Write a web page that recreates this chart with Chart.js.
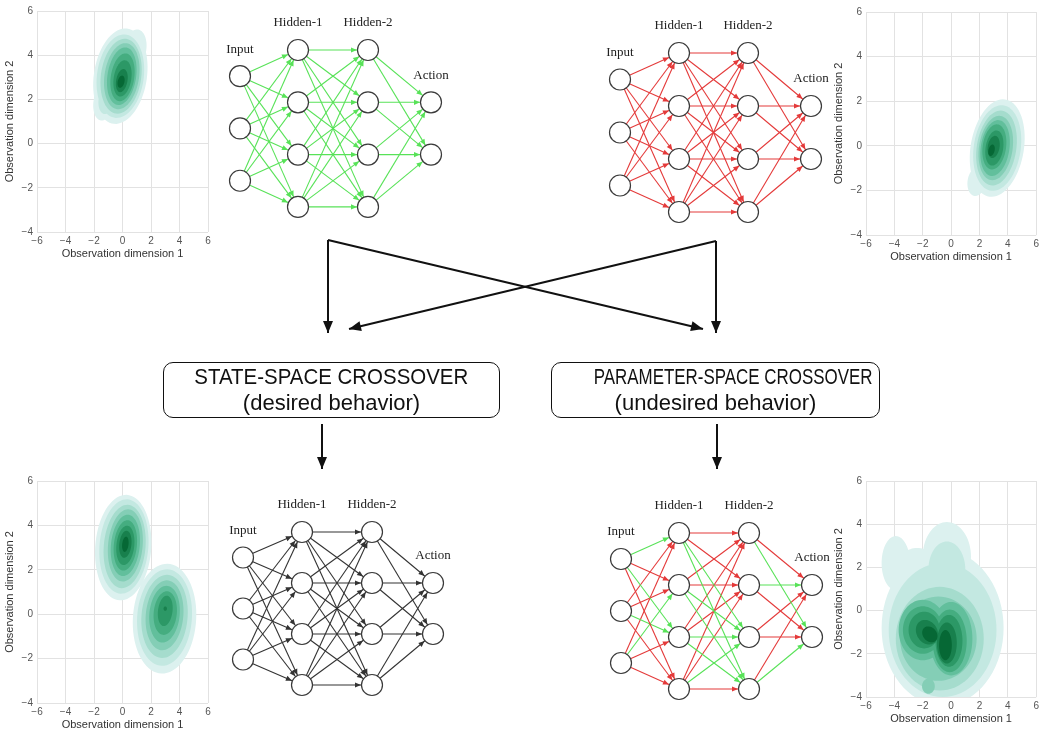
<!DOCTYPE html>
<html lang="en">
<head>
<meta charset="UTF-8">
<title>State-space vs parameter-space crossover</title>
<script src="https://cdn.jsdelivr.net/npm/chart.js"></script>
<style>
  body { margin: 0; background: #fff; }
  #page { position: relative; width: 1042px; height: 730px; overflow: hidden; }
  canvas { position: absolute; }
  .box {
    position: absolute; box-sizing: border-box;
    border: 1.6px solid #111; border-radius: 10px;
    text-align: center; color: #111;
    font-family: "Liberation Sans", Arial, sans-serif;
    font-size: 22px; line-height: 26px; padding-top: 1px;
  }
  .box span { display: inline-block; white-space: nowrap; }
</style>
</head>
<body>
<div id="page">
  <canvas id="diagram" width="1042" height="730" style="left:0;top:0"></canvas>
  <canvas id="kdeTL" width="216" height="261" style="left:0;top:0"></canvas>
  <canvas id="kdeTR" width="213" height="264" style="left:829px;top:0"></canvas>
  <canvas id="kdeBL" width="216" height="262" style="left:0;top:470px"></canvas>
  <canvas id="kdeBR" width="213" height="256" style="left:829px;top:470px"></canvas>
  <div class="box" style="left:163px;top:362px;width:337px;height:56px"><span style="transform:scaleX(0.93)">STATE-SPACE CROSSOVER</span><br><span>(desired behavior)</span></div>
  <div class="box" style="left:551px;top:362px;width:329px;height:56px"><span style="transform:scaleX(0.77)">PARAMETER-SPACE CROSSOVER</span><br><span>(undesired behavior)</span></div>
</div>
<script>
    // ---- data ----
    const layerNames = ['Input', 'Hidden-1', 'Hidden-2', 'Action'];
    const layerSizes = [3, 4, 4, 2];

    // edge colours of the parameter-space child (rows = source node, cols = target node)
    const mixInH1 = [['g', 'r', 'g', 'r'], ['r', 'r', 'g', 'r'], ['r', 'g', 'r', 'r']];
    const mixH1H2 = [['r', 'r', 'g', 'g'], ['r', 'r', 'g', 'g'], ['r', 'r', 'g', 'g'], ['r', 'r', 'g', 'r']];
    const mixH2Act = [['r', 'g'], ['g', 'r'], ['r', 'r'], ['r', 'g']];

    // kde contour levels, outer to inner: each level is a list of [cx, cy, semiA, semiB, angleDeg]
    const kdeTopLeft = [
        [[-0.15, 3.05, 2.25, 1.8, 62], [-1.3, 1.9, 0.9, 0.7, 60], [0.9, 4.3, 0.9, 0.75, 60]],
        [[-0.15, 3.05, 1.95, 1.6, 64], [-1.1, 2.0, 0.7, 0.55, 60]],
        [[-0.1, 3.05, 1.75, 1.38, 66]],
        [[-0.05, 3.05, 1.55, 1.18, 66]],
        [[-0.05, 3.05, 1.35, 0.98, 68]],
        [[0, 3.0, 1.12, 0.8, 68]],
        [[0, 2.95, 0.85, 0.6, 68]],
        [[-0.05, 2.85, 0.55, 0.38, 65]],
        [[-0.1, 2.8, 0.3, 0.22, 55]]
    ];
    const kdeTopRight = [
        [[3.25, -0.1, 2.3, 1.8, 60], [1.8, -1.6, 0.7, 0.6, 45]],
        [[3.25, -0.1, 2.0, 1.6, 62]],
        [[3.2, -0.1, 1.75, 1.35, 64]],
        [[3.15, -0.1, 1.5, 1.15, 65]],
        [[3.1, -0.1, 1.3, 0.98, 66]],
        [[3.05, -0.05, 1.05, 0.8, 66]],
        [[3.05, -0.1, 0.82, 0.6, 66]],
        [[3.0, -0.05, 0.52, 0.4, 62]],
        [[2.85, -0.2, 0.28, 0.2, 55]]
    ];
    const kdeBottomLeft = [
        [[0.05, 3.0, 2.4, 1.95, 76], [2.95, -0.2, 2.5, 2.2, 72]],
        [[0.1, 3.05, 2.15, 1.7, 76], [2.95, -0.15, 2.2, 1.9, 72]],
        [[0.15, 3.05, 1.9, 1.45, 76], [2.95, -0.1, 1.9, 1.6, 72]],
        [[0.2, 3.1, 1.65, 1.2, 76], [2.95, -0.05, 1.6, 1.3, 72]],
        [[0.2, 3.1, 1.4, 1.0, 76], [2.95, 0, 1.3, 1.05, 72]],
        [[0.2, 3.1, 1.15, 0.8, 76], [3.0, 0.05, 1.0, 0.8, 72]],
        [[0.2, 3.1, 0.9, 0.62, 76], [3.0, 0.15, 0.7, 0.5, 72]],
        [[0.2, 3.15, 0.62, 0.42, 76], [3.0, 0.25, 0.12, 0.1, 0]],
        [[0.2, 3.15, 0.35, 0.22, 76]]
    ];
    const kdeBottomRight = [
        [[-0.6, -0.8, 4.3, 3.6, 0], [-3.9, 2.2, 1.0, 1.25, 0], [-2.4, 2.0, 1.4, 0.9, 0], [-0.3, 2.5, 1.7, 1.6, 0]],
        [[-0.6, -0.9, 3.8, 3.1, 0], [-0.3, 1.9, 1.3, 1.3, 0]],
        [[-0.8, -1.3, 3.1, 2.4, 0]],
        [[-0.9, -1.3, 2.7, 1.95, 0], [-1.6, -3.5, 0.45, 0.35, 0]],
        [[-2.0, -0.9, 1.7, 1.4, 0], [0, -1.3, 1.5, 1.7, 0]],
        [[-2.0, -0.9, 1.4, 1.1, 0], [-0.1, -1.4, 1.2, 1.45, 0]],
        [[-1.9, -0.9, 1.1, 0.85, 0], [-0.15, -1.4, 0.95, 1.2, 0]],
        [[-1.7, -1.0, 0.8, 0.55, -15], [-0.3, -1.5, 0.7, 0.95, 0]],
        [[-1.5, -1.1, 0.55, 0.35, -15], [-0.4, -1.6, 0.45, 0.7, 0]]
    ];
    const kdeColors = ['#dcf1ef', '#c3e8e1', '#a5dccd', '#84ceb6', '#62bf9c', '#45ad80', '#2c9866', '#18804d', '#066835'];

    // ---- styles ----
    const GREEN = '#58e258';
    const RED = '#e43a3a';
    const DARK = '#333333';
    const NODE_R = 10.5;

    // where each network sits on the page
    const nets = [
        { x0: 240, y0: 50, dx: [0, 58, 128, 191], gap: 52.3, color: GREEN },
        { x0: 620, y0: 53, dx: [0, 59, 128, 191], gap: 53, color: RED },
        { x0: 243, y0: 532, dx: [0, 59, 129, 190], gap: 51, color: DARK },
        { x0: 621, y0: 533, dx: [0, 58, 128, 191], gap: 52, color: 'mixed' }
    ];
    const mixLayers = [mixInH1, mixH1H2, mixH2Act];

    // big black arrows between panels: [from, to]
    const bigArrows = [
        [[328, 240], [328, 333]],
        [[716, 241], [716, 333]],
        [[328, 240], [703, 329]],
        [[716, 241], [349, 329]],
        [[322, 424], [322, 469]],
        [[717, 424], [717, 469]]
    ];

    function nodePos(net, l, i) {
        return { x: net.x0 + net.dx[l], y: net.y0 + net.gap * ((4 - layerSizes[l]) / 2 + i) };
    }

    const datasets = [];
    nets.forEach(net => {
        const nodes = [];
        layerSizes.forEach((n, l) => {
            for (let i = 0; i < n; i++) nodes.push(nodePos(net, l, i));
        });
        datasets.push({
            data: nodes, showLine: false, order: 0,
            pointRadius: NODE_R, pointBackgroundColor: '#fff',
            pointBorderColor: '#3a3a3a', pointBorderWidth: 1.2
        });
        for (let l = 0; l < 3; l++) {
            for (let i = 0; i < layerSizes[l]; i++) {
                for (let j = 0; j < layerSizes[l + 1]; j++) {
                    let c = net.color;
                    if (c === 'mixed') c = mixLayers[l][i][j] === 'g' ? GREEN : RED;
                    datasets.push({
                        data: [nodePos(net, l, i), nodePos(net, l + 1, j)],
                        showLine: true, order: 1, pointRadius: 0,
                        borderColor: c, borderWidth: 1.1,
                        arrow: { len: 6, wid: 2.6, gap: NODE_R + 0.5 }
                    });
                }
            }
        }
    });
    bigArrows.forEach(([a, b]) => {
        datasets.push({
            data: [{ x: a[0], y: a[1] }, { x: b[0], y: b[1] }],
            showLine: true, order: 1, pointRadius: 0,
            borderColor: '#111', borderWidth: 2,
            arrow: { len: 12, wid: 5, gap: 0 }
        });
    });

    const arrowHeads = {
        id: 'arrowHeads',
        afterDatasetsDraw(chart) {
            const ctx = chart.ctx;
            chart.data.datasets.forEach((ds, k) => {
                if (!ds.arrow) return;
                const pts = chart.getDatasetMeta(k).data;
                const a = pts[0], b = pts[1];
                const ang = Math.atan2(b.y - a.y, b.x - a.x);
                const c = Math.cos(ang), s = Math.sin(ang);
                const tx = b.x - c * ds.arrow.gap, ty = b.y - s * ds.arrow.gap;
                const L = ds.arrow.len, W = ds.arrow.wid;
                ctx.save();
                ctx.fillStyle = ds.borderColor;
                ctx.beginPath();
                ctx.moveTo(tx, ty);
                ctx.lineTo(tx - L * c + W * s, ty - L * s - W * c);
                ctx.lineTo(tx - L * c - W * s, ty - L * s + W * c);
                ctx.closePath();
                ctx.fill();
                ctx.restore();
            });
        }
    };

    const layerLabels = {
        id: 'layerLabels',
        afterDatasetsDraw(chart) {
            const { ctx, scales: { x, y } } = chart;
            ctx.save();
            ctx.font = '13px "Liberation Serif", "Times New Roman", serif';
            ctx.fillStyle = '#222';
            ctx.textAlign = 'center';
            ctx.textBaseline = 'middle';
            nets.forEach(net => {
                layerNames.forEach((name, l) => {
                    const p = nodePos(net, l, 0);
                    ctx.fillText(name, x.getPixelForValue(p.x), y.getPixelForValue(p.y - 27));
                });
            });
            ctx.restore();
        }
    };

    new Chart(document.getElementById('diagram'), {
        type: 'scatter',
        data: { datasets: datasets },
        options: {
            responsive: false,
            animation: false,
            layout: { padding: 0, autoPadding: false },
            plugins: { legend: { display: false }, tooltip: { enabled: false } },
            scales: {
                x: { type: 'linear', min: 0, max: 1042, display: false },
                y: { type: 'linear', min: 0, max: 730, reverse: true, display: false }
            }
        },
        plugins: [arrowHeads, layerLabels]
    });

    // ---- kde panels ----
    function contours(levels) {
        return {
            id: 'contours',
            beforeDatasetsDraw(chart) {
                const { ctx, chartArea: area, scales: { x, y } } = chart;
                ctx.save();
                ctx.beginPath();
                ctx.rect(area.left, area.top, area.right - area.left, area.bottom - area.top);
                ctx.clip();
                levels.forEach((shapes, k) => {
                    ctx.fillStyle = kdeColors[k];
                    ctx.beginPath();
                    shapes.forEach(([cx, cy, ra, rb, deg]) => {
                        const th = deg * Math.PI / 180;
                        for (let i = 0; i <= 72; i++) {
                            const t = i / 72 * 2 * Math.PI;
                            const dx = ra * Math.cos(t), dy = rb * Math.sin(t);
                            const px = x.getPixelForValue(cx + dx * Math.cos(th) - dy * Math.sin(th));
                            const py = y.getPixelForValue(cy + dx * Math.sin(th) + dy * Math.cos(th));
                            if (i === 0) ctx.moveTo(px, py); else ctx.lineTo(px, py);
                        }
                        ctx.closePath();
                    });
                    ctx.fill('nonzero');
                });
                ctx.restore();
            }
        };
    }

    const minus = v => String(v).replace('-', '\u2212');
    const tickFont = { family: 'Liberation Sans', size: 10 };
    const titleFont = { family: 'Liberation Sans', size: 11 };

    function kdeChart(id, levels, padTop, padRight) {
        return new Chart(document.getElementById(id), {
            type: 'scatter',
            data: { datasets: [] },
            options: {
                responsive: false,
                animation: false,
                layout: { padding: { top: padTop, right: padRight, left: 0, bottom: 0 } },
                plugins: { legend: { display: false }, tooltip: { enabled: false } },
                scales: {
                    x: {
                        type: 'linear', min: -6, max: 6,
                        ticks: { stepSize: 2, padding: 3, color: '#555', font: tickFont, callback: minus },
                        grid: { color: '#e2e2e2', drawTicks: false },
                        border: { display: false },
                        title: { display: true, text: 'Observation dimension 1', color: '#333', font: titleFont, padding: 0 },
                        afterFit: s => { s.height = 29; }
                    },
                    y: {
                        type: 'linear', min: -4, max: 6,
                        ticks: { stepSize: 2, padding: 4, color: '#555', font: tickFont, callback: minus },
                        grid: { color: '#e2e2e2', drawTicks: false },
                        border: { display: false },
                        title: { display: true, text: 'Observation dimension 2', color: '#333', font: titleFont, padding: 3 },
                        afterFit: s => { s.width = 37; }
                    }
                }
            },
            plugins: [contours(levels)]
        });
    }

    kdeChart('kdeTL', kdeTopLeft, 11, 8);
    kdeChart('kdeTR', kdeTopRight, 12, 4);
    kdeChart('kdeBL', kdeBottomLeft, 11, 8);
    kdeChart('kdeBR', kdeBottomRight, 11, 5);
</script>
</body>
</html>
